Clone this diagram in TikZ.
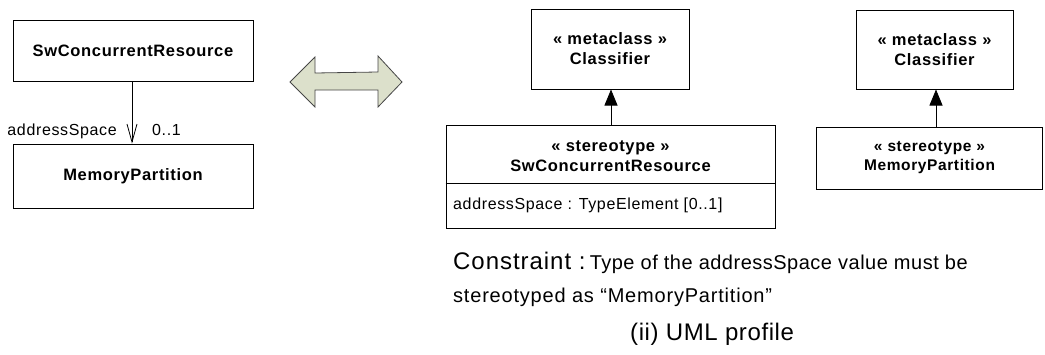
\documentclass[tikz,border=0pt]{standalone}
\usepackage{fontspec}
\setmainfont{Liberation Sans}[LetterSpace=4]
\newfontfamily\sparse{Liberation Sans}[LetterSpace=2.5]
\usetikzlibrary{arrows.meta,calc}
\tikzset{
  box/.style={draw=black,line width=1pt,fill=white,inner sep=0pt},
  boxtxt/.style={font=\fontsize{16.5}{20}\selectfont\bfseries,align=center,inner sep=0pt},
  lbl/.style={font=\fontsize{16}{19}\selectfont,inner sep=0pt},
  gen/.style={line width=0.8pt,-{Triangle[width=13pt,length=16pt]}},
  assoc/.style={line width=0.8pt,-{Straight Barb[width=10pt,length=18pt,line width=0.8pt]}},
  bigarrow/.style={fill={rgb,255:red,220;green,224;blue,203},draw={rgb,255:red,70;green,70;blue,70},line width=0.8pt},
}
\begin{document}
\begin{tikzpicture}[x=1pt,y=-1pt]
\useasboundingbox (0,0) rectangle (1045,354);
% left model
\node[box,minimum width=240pt,minimum height=61pt] (swl) at (133,50.5) {};
\node[boxtxt] (swlt) at (swl) {SwConcurrentResource};
\node[box,minimum width=240pt,minimum height=64pt] (mpl) at (133,176) {};
\node[boxtxt] (mplt) at (mpl) {MemoryPartition};
\draw[assoc] (swl.south -| 132,0) -- (mpl.north -| 132,0);
\node[lbl,anchor=base east] (as) at (117,135) {addressSpace};
\node[lbl,anchor=base west] (mult) at (152,135) {0..1};
% double arrow
\filldraw[bigarrow]
  (290,82) -- (315,57) -- (315,73) -- (378,72) -- (378,56) -- (402,82) -- (378,107) -- (378,90) -- (315,90) -- (315,107) -- cycle;
% right profile
\node[box,minimum width=158pt,minimum height=80pt] (c1) at (610,49) {};
\node[boxtxt] (c1t) at (c1) {« metaclass »\\Classifier};
\node[box,minimum width=329pt,minimum height=103pt] (s1) at (610.5,176.5) {};
\node[boxtxt] (s1t) at (610.5,156) {« stereotype »\\SwConcurrentResource};
\draw[line width=0.8pt] (s1.west |- 0,183) -- (s1.east |- 0,183);
\node[lbl,anchor=base west] (attr) at (453,209) {addressSpace : TypeElement [0..1]};
\draw[gen] (s1.north -| 611,0) -- (c1.south -| 611,0);
\node[box,minimum width=157pt,minimum height=79pt] (c2) at (934.5,49.5) {};
\node[boxtxt] (c2t) at (c2) {« metaclass »\\Classifier};
\node[box,minimum width=226pt,minimum height=62pt] (s2) at (929.5,158) {};
\node[boxtxt,font=\fontsize{15.5}{19}\selectfont\bfseries] (s2t) at (s2) {« stereotype »\\MemoryPartition};
\draw[gen] (s2.north -| 936,0) -- (c2.south -| 936,0);
% constraint
\node[anchor=base west,inner sep=0pt] (con1) at (453,269) {{\fontsize{24}{28}\selectfont Constraint :} {\sparse\fontsize{20}{24}\selectfont Type of the addressSpace value must be}};
\node[anchor=base west,inner sep=0pt,font=\fontsize{20}{24}\selectfont] (con2) at (453,302) {stereotyped as “MemoryPartition”};
\node[anchor=base west,inner sep=0pt,font=\sparse\fontsize{24}{28}\selectfont] (cap) at (630,340) {(ii) UML profile};
\end{tikzpicture}
\end{document}
